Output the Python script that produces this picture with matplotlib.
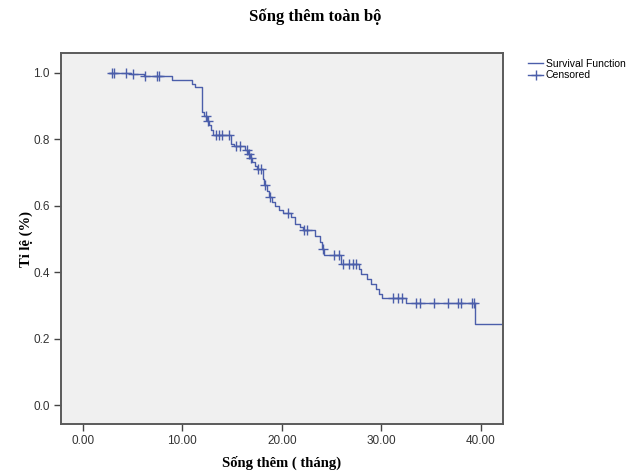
import numpy as np
import matplotlib.pyplot as plt
from matplotlib.lines import Line2D

# Kaplan-Meier curve: step times and survival after each step
step_times = [2.6, 4.8, 6.1, 9.0, 11.0, 11.3, 12.0, 12.2, 12.5, 12.7, 12.9, 13.1,
              14.9, 15.2, 16.3, 16.6, 16.8, 17.0, 17.3, 17.5, 18.1, 18.2, 18.5, 18.7,
              19.0, 19.3, 19.7, 20.1, 20.9, 21.3, 21.8, 22.1, 23.3, 23.8, 24.0, 24.2,
              26.0, 27.8, 28.0, 28.6, 29.0, 29.5, 29.8, 30.1, 32.5, 39.4]
survival = [1.0, 0.995, 0.990, 0.978, 0.967, 0.956, 0.880, 0.868, 0.855, 0.843, 0.826, 0.811,
            0.786, 0.778, 0.766, 0.754, 0.742, 0.730, 0.718, 0.709, 0.680, 0.661, 0.645, 0.626,
            0.612, 0.600, 0.586, 0.578, 0.567, 0.546, 0.535, 0.526, 0.510, 0.490, 0.470, 0.450,
            0.425, 0.410, 0.395, 0.380, 0.365, 0.350, 0.335, 0.323, 0.307, 0.243]
end_time = 42.2

censored = [2.9, 3.1, 4.3, 5.0, 6.2, 7.5, 7.7, 12.4, 12.6, 13.4, 13.7, 14.0, 14.7,
            15.4, 15.8, 16.5, 16.7, 16.9, 17.6, 17.9, 18.3, 18.8, 20.6, 22.2, 22.5,
            24.1, 25.2, 25.7, 26.2, 26.8, 27.2, 27.5, 31.2, 31.7, 32.1, 33.5, 33.9,
            35.3, 36.7, 37.7, 38.0, 39.1, 39.3]

xticks = [0, 10, 20, 30, 40]
yticks = [0.0, 0.2, 0.4, 0.6, 0.8, 1.0]

col = '#4B5EAA'
serif = 'Liberation Serif'
sans = 'Liberation Sans'

fig = plt.figure(figsize=(6.44, 4.74), dpi=100)
ax = fig.add_axes([0.0947, 0.1055, 0.6858, 0.7820])
ax.set_facecolor('#F0F0F0')

xs = step_times + [end_time]
ys = survival + [survival[-1]]
ax.step(xs, ys, where='post', color=col, lw=1.0)

# censor marks sit on the curve
idx = np.searchsorted(step_times, censored, side='right') - 1
cy = [survival[i] for i in idx]
ax.plot(censored, cy, ls='none', marker='+', ms=6.5, mew=1.0, color=col)

ax.set_xlim(-2.2, 42.2)
ax.set_ylim(-0.057, 1.058)
ax.set_xticks(xticks)
ax.set_xticklabels(['%.2f' % v for v in xticks])
ax.set_yticks(yticks)
ax.set_yticklabels(['%.1f' % v for v in yticks])
for lab in ax.get_xticklabels() + ax.get_yticklabels():
    lab.set_fontfamily(sans)
    lab.set_fontsize(8.5)
    lab.set_color('#333333')
ax.tick_params(length=5, width=1, color='#444444', pad=3)
for s in ax.spines.values():
    s.set_color('#5a5a5a')
    s.set_linewidth(1.4)

fig.text(0.49, 0.965, 'Sống thêm toàn bộ', ha='center', va='center',
         fontfamily=serif, fontweight='bold', fontsize=12)
ax.set_xlabel('Sống thêm ( tháng)', fontfamily=serif, fontweight='bold', fontsize=10.5, labelpad=6)
ax.set_ylabel('Tỉ lệ (%)', fontfamily=serif, fontweight='bold', fontsize=10.5, labelpad=0)

handles = [Line2D([], [], color=col, lw=1.0),
           Line2D([], [], color=col, lw=1.0, marker='+', ms=7)]
fig.legend(handles, ['Survival Function', 'Censored'], loc='upper left',
           bbox_to_anchor=(0.805, 0.895), frameon=False, handlelength=1.5,
           handletextpad=0.2, labelspacing=0.1,
           prop={'family': sans, 'size': 7.5})

fig.savefig('out.png', dpi=100)
